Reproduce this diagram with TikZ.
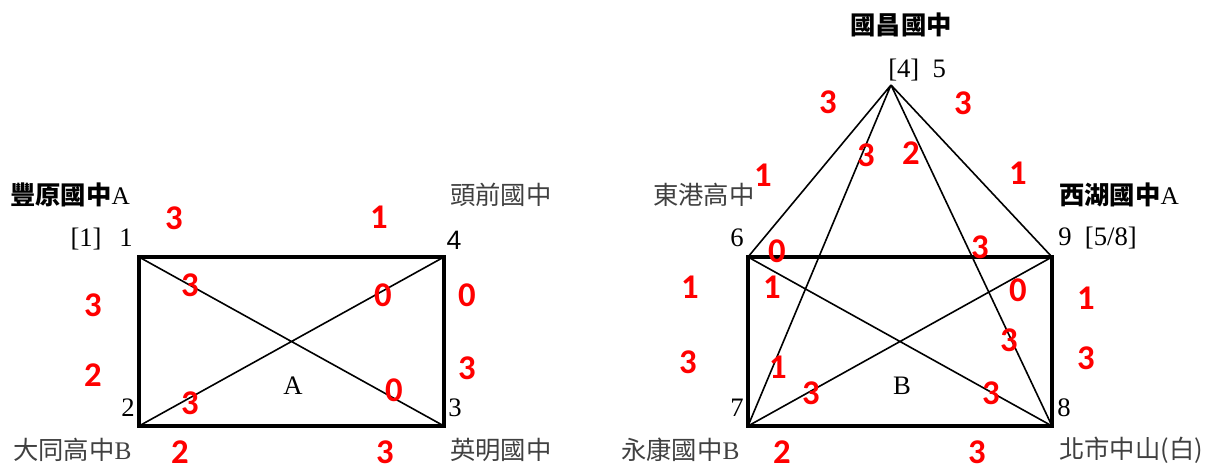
\documentclass[tikz,border=0pt]{standalone}
\usepackage{fontspec}
\setmainfont{Liberation Serif}
\setsansfont{Liberation Sans}
\newfontfamily\cjk{Noto Sans CJK TC}
\newfontfamily\scorefont{Carlito}
\usetikzlibrary{positioning}

\begin{document}
\begin{tikzpicture}[
    x=0.75pt, y=-0.75pt,
    school/.style={font=\fontsize{19}{22}\selectfont\cjk, text=black!75, inner sep=0pt, anchor=west},
    seed/.style={school, font=\fontsize{19}{22}\selectfont\cjk\bfseries, text=black},
    num/.style={font=\fontsize{20}{22}\selectfont, inner sep=0pt},
    score/.style={font=\fontsize{26}{28}\selectfont\scorefont\bfseries, text=red, inner sep=0pt},
    frame/.style={line width=2.4pt, line join=miter},
    link/.style={line width=1.2pt}
]
\useasboundingbox (0,0) rectangle (1211,468);

% group A
\coordinate (v1) at (139,257);
\coordinate (v4) at (444,257);
\coordinate (v3) at (444,426);
\coordinate (v2) at (139,426);
\draw[frame] (v1) -- (v4) -- (v3) -- (v2) -- cycle;
\draw[link] (v1) -- (v3) (v2) -- (v4);

\node[seed] (fengyuan) at (10,195) {豐原國中{\rmfamily\mdseries A}};
\node[school] (touqian) at (450,195) {頭前國中};
\node[school] (datong) at (13,450) {大同高中{\rmfamily B}};
\node[school] (yingming) at (450,450) {英明國中};
\node[num, anchor=east] (n1) at (133,239) {[1]\enspace\,1};
\node[num, font=\fontsize{20}{22}\selectfont\sffamily] (n4) at (454,240) {4};
\node[num] (n2) at (128,408) {2};
\node[num] (n3) at (455,408) {3};
\node[num] (grpA) at (293,386) {A};

% group B
\coordinate (v5) at (891,85);
\coordinate (v6) at (748,257);
\coordinate (v9) at (1052,257);
\coordinate (v8) at (1052,426);
\coordinate (v7) at (748,426);
\draw[frame] (v6) -- (v9) -- (v8) -- (v7) -- cycle;
\draw[link] (v6) -- (v8) (v7) -- (v9);
\draw[link] (v5) -- (v6) (v5) -- (v7) (v5) -- (v8) (v5) -- (v9);

\node[seed, anchor=center] (guochang) at (901,25) {國昌國中};
\node[school] (donggang) at (653,195) {東港高中};
\node[seed] (xihu) at (1059,195) {西湖國中{\rmfamily\mdseries A}};
\node[school] (yongkang) at (621,450) {永康國中{\rmfamily B}};
\node[school] (zhongshan) at (1059,450) {北市中山(白)};
\node[num, anchor=west] (n5) at (888,70) {[4]\enspace 5};
\node[num] (n6) at (737,238) {6};
\node[num, anchor=west] (n9) at (1058,238) {9\enspace[5/8]};
\node[num] (n7) at (737,408) {7};
\node[num] (n8) at (1064,408) {8};
\node[num] (grpB) at (902,386) {B};

% scores
\foreach \x/\y/\s [count=\i] in {
    174/218/3, 379/217/1, 190/285/3, 383/295/0, 467/295/0,
    93/305/3, 93/375/2, 467/368/3, 190/403/3, 394/390/0,
    180/452/2, 385/452/3,
    828/102/3, 963/103/3, 866/155/3, 911/153/2, 763/175/1, 1018/173/1,
    777/251/0, 980/247/3, 690/287/1, 772/287/1, 1018/290/0, 1086/298/1,
    1009/340/3, 688/362/3, 778/367/1, 1086/358/3, 811/393/3, 991/393/3,
    782/452/2, 977/452/3}
  \node[score] (s\i) at (\x,\y) {\s};
\end{tikzpicture}
\end{document}
